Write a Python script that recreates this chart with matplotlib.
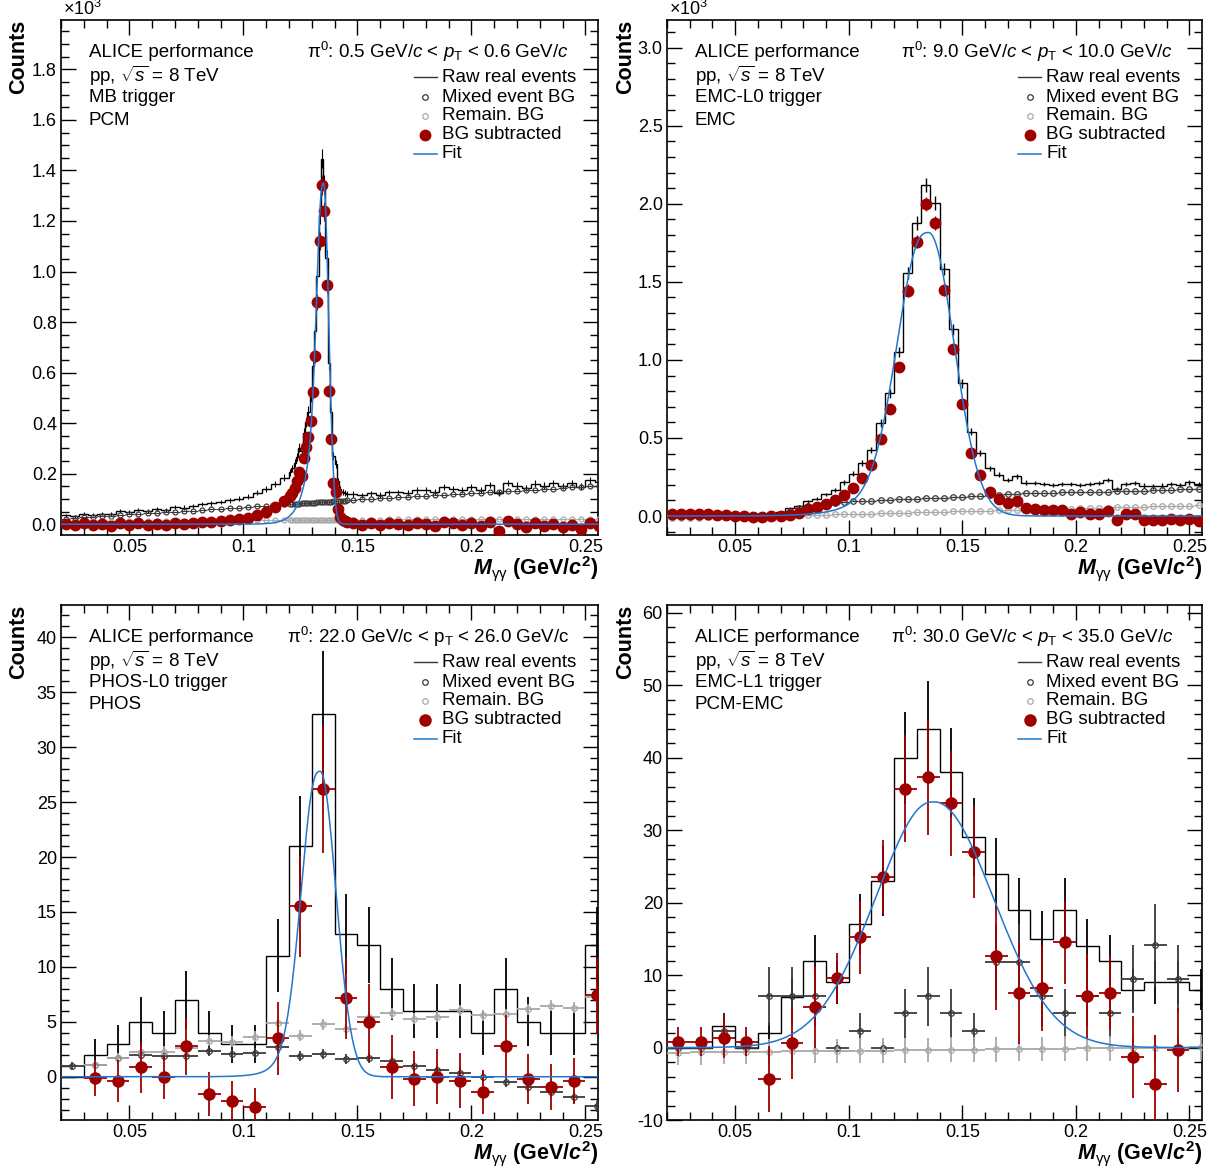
import numpy as np
import matplotlib
matplotlib.use('Agg')
import matplotlib.pyplot as plt
from matplotlib.ticker import MultipleLocator, FuncFormatter

plt.rcParams['font.family'] = ['Liberation Sans', 'DejaVu Sans']
plt.rcParams['mathtext.fontset'] = 'custom'
plt.rcParams['mathtext.rm'] = 'Liberation Sans'
plt.rcParams['mathtext.it'] = 'Liberation Sans:italic'
plt.rcParams['mathtext.bf'] = 'Liberation Sans:bold'
plt.rcParams['mathtext.bfit'] = 'Liberation Sans:bold:italic'
plt.rcParams['axes.unicode_minus'] = False

# ---------------- PCM, MB trigger, 0.5-0.6 GeV/c (variable binning) ----------------
pcm_edges = np.round(np.concatenate([np.arange(0.020, 0.1199, 0.004),
                                     np.arange(0.120, 0.1459, 0.001),
                                     np.arange(0.146, 0.2581, 0.004)]), 4)
pcm_raw = [35, 31, 42, 37, 42, 40, 51, 49, 58, 52, 59, 57, 67, 66, 73, 79, 83, 88, 95, 101, 109, 125, 139, 160, 184,
           205, 221, 241, 267, 303, 289, 361, 405, 445, 508, 625, 766, 984, 1225, 1447, 1344, 1054, 636, 444, 271,
           237, 169, 140, 128, 123, 120,
           119, 114, 122, 115, 126, 126, 124, 136, 134, 128, 146, 141, 137, 148, 137, 155, 124, 163, 153, 145,
           161, 153, 163, 152, 162, 149, 174, 165]
pcm_mixed = [22, 24, 27, 29, 31, 34, 36, 39, 41, 43, 45, 47, 50, 52, 54, 57, 59, 61, 64, 66, 69, 71, 73, 76, 78,
             79, 80, 80, 81, 81, 82, 82, 83, 84, 84, 85, 85, 86, 86, 87, 88, 88, 89, 89, 90, 91, 91, 92, 92, 93, 94,
             95, 98, 100, 102, 104, 107, 109, 111, 113, 115, 117, 119, 121, 123, 125, 127, 129, 131, 133, 135,
             137, 139, 141, 144, 146, 149, 151, 153]
pcm_remain = [10, 10, 11, 11, 11, 12, 12, 12, 12, 13, 13, 13, 13, 14, 14, 14, 14, 15, 15, 15, 15, 16, 16, 16, 16,
              16, 16, 16, 16, 17, 17, 17, 17, 17, 17, 17, 17, 17, 17, 18, 18, 18, 18, 18, 18, 18, 18, 18, 18, 18, 18,
              18, 18, 18, 18, 19, 19, 19, 19, 19, 19, 19, 19, 19, 20, 20, 20, 20, 20, 20, 20, 20, 20, 20, 20, 20,
              20, 20, 20]
pcm_sub = [2, -5, 4, -3, 0, -6, 3, -2, 5, -4, 1, -3, 4, 0, 5, 8, 10, 12, 16, 20, 25, 38, 50, 68, 90,
           110, 125, 145, 170, 205, 190, 262, 305, 344, 407, 523, 664, 881, 1122, 1342, 1238, 948, 529, 337, 163,
           128, 60, 30, 18, 12, 8,
           6, -2, 4, -5, 3, 0, -4, 6, 2, -6, 10, 3, -3, 5, -8, 8, -25, 12, 0, -10, 4, -6, 2, -12, -4, -20, 3, -8]
pcm_fit = (1350, 0.1352, 0.0022, 0.0040)   # amplitude, mean, sigma, tail

# ---------------- EMC, EMC-L0 trigger, 9-10 GeV/c ----------------
emc_edges = np.round(np.arange(0.020, 0.2561, 0.004), 4)
emc_raw = [3, 3, 2, 2, 2, 2, 3, 3, 3, 5, 8, 12, 25, 50, 62, 95, 110, 138, 165, 215,
           270, 338, 423, 594, 786, 1053, 1556, 1876, 2122, 2004, 1581, 1197, 851, 541, 402, 306, 263, 231, 256, 214,
           210, 205, 200, 205, 205, 200, 205, 210, 230, 175, 205, 210, 195, 190, 195, 205, 200, 215, 205]
emc_mixed = [-8, -8, -8, -8, -8, -8, -7, -6, -5, -3, -2, 3, 15, 33, 50, 62, 72, 79, 85, 89,
             93, 96, 99, 102, 105, 107, 109, 111, 114, 116, 118, 121, 124, 127, 131, 134, 137, 140, 142, 145,
             147, 149, 150, 152, 153, 154, 155, 156, 157, 158, 160, 161, 163, 165, 167, 169, 171, 173, 175]
emc_remain = [-15, -14, -12, -11, -9, -8, -6, -5, -4, -2, -1, 1, 2, 4, 5, 6, 8, 9, 11, 12,
              14, 15, 16, 18, 19, 21, 22, 24, 25, 26, 28, 29, 31, 32, 34, 35, 36, 38, 39, 41,
              42, 44, 45, 46, 48, 49, 51, 52, 54, 55, 56, 58, 59, 61, 62, 64, 65, 66, 68]
emc_sub = [15, 15, 15, 12, 10, 5, 5, 0, -3, -5, -5, 0, 0, 5, 17, 43, 60, 75, 105, 136,
           177, 242, 329, 492, 688, 957, 1444, 1758, 2000, 1876, 1449, 1068, 718, 402, 263, 152, 109, 81, 96, 49,
           43, 38, 38, 38, 11, 28, 11, 11, 32, -28, 11, 11, -28, -28, -28, -17, -28, -17, -32]
emc_fit = (1816, 0.1352, 0.0112, 0.0106)

# ---------------- PHOS, PHOS-L0 trigger, 22-26 GeV/c ----------------
phos_edges = np.round(np.arange(0.02, 0.2601, 0.01), 3)
phos_raw = [0, 2, 3, 5, 4, 7, 4, 3, 3, 11, 21, 33, 13, 12, 8, 6, 6, 6, 4, 8, 5, 4, 4, 12]
phos_mixed = [1.0, 1.06, 1.67, 1.97, 1.85, 1.85, 2.3, 2.06, 2.15, 2.67, 1.85, 2.03, 1.6, 1.67, 1.4, 0.94,
              0.64, 0.33, -0.06, -0.45, -0.9, -1.36, -1.88, -2.7]
phos_mixed_err = [0.35, 0.35, 0.4, 0.4, 0.4, 0.4, 0.45, 0.45, 0.45, 0.5, 0.45, 0.45, 0.45, 0.45, 0.45, 0.45,
                  0.45, 0.45, 0.45, 0.5, 0.5, 0.5, 0.5, 0.5]
phos_remain = [np.nan, 1.06, 1.67, 2.27, 2.27, 2.58, 3.27, 3.18, 3.64, 4.85, 3.73, 4.76, 4.33, 5.4, 5.76, 5.3,
               5.45, 6.06, 5.6, 5.7, 6.15, 6.45, 6.3, 7.3]
phos_remain_err = [0.5] * 24
phos_sub = [np.nan, -0.12, -0.42, 0.85, -0.06, 2.76, -1.58, -2.2, -2.8, 3.5, 15.5, 26.2, 7.15, 4.94, 0.9, -0.2,
            0.0, -0.36, -1.42, 2.76, -0.2, -0.97, -0.42, 7.4]
phos_sub_err = [np.nan, 1.6, 1.9, 2.3, 2.0, 2.6, 2.0, 1.8, 1.8, 3.3, 4.6, 5.8, 3.7, 3.5, 2.9, 2.5,
                2.5, 2.5, 2.0, 2.9, 2.3, 2.1, 2.1, 3.5]
phos_fit = (27.8, 0.1337, 0.0069, 0.0060)

# ---------------- PCM-EMC, EMC-L1 trigger, 30-35 GeV/c ----------------
pcmemc_edges = np.round(np.arange(0.02, 0.2601, 0.01), 3)
pcmemc_raw = [0, 0, 3, 0, 2, 7, 12, 9, 17, 23, 40, 44, 38, 29, 24, 19, 15, 19, 14, 12, 8, 9, 9, 8]
pcmemc_mixed = [0, 0, 2.35, 0, 7.06, 7.06, 7.06, 0, 2.35, 0, 4.7, 7.06, 4.7, 2.35, 11.8, 11.8,
                7.06, 4.7, 7.06, 4.7, 9.4, 14.1, 9.4, np.nan]
pcmemc_mixed_err = [0.8, 0.8, 2.35, 0.8, 4.07, 4.07, 4.07, 0.8, 2.35, 0.8, 3.32, 4.07, 3.32, 2.35, 5.25, 5.25,
                    4.07, 3.32, 4.07, 3.32, 4.7, 5.76, 4.7, np.nan]
pcmemc_remain = [-0.69, -0.66, -0.63, -0.6, -0.57, -0.54, -0.5, -0.47, -0.44, -0.41, -0.38, -0.35, -0.31, -0.28,
                 -0.25, -0.22, -0.19, -0.16, -0.12, -0.09, -0.06, -0.03, 0.0, 0.03]
pcmemc_remain_err = [1.7] * 24
pcmemc_sub = [0.78, 0.78, 1.38, 0.78, -4.36, 0.6, 5.6, 9.6, 15.2, 23.5, 35.7, 37.4, 33.7, 27.0, 12.6, 7.5,
              8.2, 14.5, 7.1, 7.5, -1.28, -5.0, -0.37, np.nan]
pcmemc_sub_err = [2.0, 2.0, 2.8, 2.0, 4.6, 5.0, 5.6, 3.4, 5.0, 5.1, 7.4, 8.0, 7.2, 6.3, 7.4, 7.0,
                  5.9, 5.7, 5.8, 5.1, 5.7, 6.7, 5.8, np.nan]
pcmemc_fit = (33.9, 0.1378, 0.026, 0.005)

RED = '#9e0000'
BLUE = '#1f77d0'
DARK = '#3a3a3a'
LIGHT = '#a8a8a8'
XMIN, XMAX = 0.02, 0.2555


def peak(x, amp, mean, sigma, lam):
    g = np.exp(-0.5 * ((x - mean) / sigma) ** 2)
    tail = np.where(x < mean, np.exp((x - mean) / lam) * (1 - g), 0.0)
    return amp * (g + tail)


def draw(ax, edges, raw, mixed, remain, sub, sub_err, mixed_err, remain_err, fit, ms_sub, ms_bg, bar_lw):
    edges = np.asarray(edges)
    centers = 0.5 * (edges[:-1] + edges[1:])
    half = 0.5 * np.diff(edges)
    raw = np.asarray(raw, float)
    ax.stairs(raw, edges, color='black', lw=1.0, baseline=None, zorder=2)
    ax.errorbar(centers, raw, yerr=np.sqrt(raw), fmt='none', ecolor='black', elinewidth=bar_lw, zorder=2)
    ax.errorbar(centers, mixed, xerr=half, yerr=mixed_err, fmt='o', ms=ms_bg, mfc='none', mec=DARK,
                mew=0.9, ecolor=DARK, elinewidth=bar_lw, zorder=3)
    ax.errorbar(centers, remain, xerr=half, yerr=remain_err, fmt='o', ms=ms_bg, mfc='none', mec=LIGHT,
                mew=0.9, ecolor=LIGHT, elinewidth=bar_lw, zorder=3)
    ax.errorbar(centers, sub, xerr=half, yerr=sub_err, fmt='o', ms=ms_sub, mfc=RED, mec=RED,
                ecolor=RED, elinewidth=bar_lw, zorder=4)
    xf = np.linspace(XMIN, XMAX, 800)
    ax.plot(xf, peak(xf, *fit), color=BLUE, lw=1.1, zorder=5)


def style(ax, ylim, major, minor, scale):
    ax.set_xlim(XMIN, XMAX)
    ax.set_ylim(*ylim)
    ax.xaxis.set_major_locator(MultipleLocator(0.05))
    ax.xaxis.set_minor_locator(MultipleLocator(0.01))
    ax.xaxis.set_major_formatter(FuncFormatter(lambda v, p: f'{v:g}'))
    ax.yaxis.set_major_locator(MultipleLocator(major))
    ax.yaxis.set_minor_locator(MultipleLocator(minor))
    if scale:
        ax.yaxis.set_major_formatter(FuncFormatter(lambda v, p: f'{v / 1000:.1f}'))
        ax.text(0.003, 1.003, r'$\times$10$^{3}$', transform=ax.transAxes, ha='left', va='bottom', fontsize=13)
    ax.tick_params(which='both', direction='in', top=True, right=True, labelsize=13, pad=3)
    ax.tick_params(which='major', length=11, width=1.0)
    ax.tick_params(which='minor', length=5.5, width=1.0)
    for s in ax.spines.values():
        s.set_linewidth(1.2)
    ax.text(-0.078, 1.0, 'Counts', transform=ax.transAxes, rotation=90, ha='center', va='top',
            fontsize=15.5, fontweight='bold')
    ax.text(1.0, -0.037, r'$\mathbfit{M}_{\mathrm{\gamma\gamma}}$ (GeV/$\mathbfit{c}^{\mathbf{2}}$)',
            transform=ax.transAxes, ha='right', va='top', fontsize=15.5, fontweight='bold')


def annotate(ax, title, lines, ms_sub, ms_bg):
    tr = ax.transAxes
    ax.text(0.946, 0.938, title, transform=tr, ha='right', va='center', fontsize=13.5)
    for y, s in zip([0.938, 0.892, 0.850, 0.806], lines):
        ax.text(0.052, y, s, transform=tr, ha='left', va='center', fontsize=13.5)
    rows = [0.889, 0.850, 0.814, 0.777, 0.740]
    labels = ['Raw real events', 'Mixed event BG', 'Remain. BG', 'BG subtracted', 'Fit']
    ax.plot([0.657, 0.700], [rows[0]] * 2, transform=tr, color='#333333', lw=1.0)
    ax.plot([0.678], [rows[1]], 'o', ms=ms_bg, mfc='none', mec=DARK, mew=0.9, transform=tr)
    ax.plot([0.678], [rows[2]], 'o', ms=ms_bg, mfc='none', mec=LIGHT, mew=0.9, transform=tr)
    ax.plot([0.678], [rows[3]], 'o', ms=ms_sub, mfc=RED, mec=RED, transform=tr)
    ax.plot([0.657, 0.700], [rows[4]] * 2, transform=tr, color=BLUE, lw=1.1)
    for y, s in zip(rows, labels):
        ax.text(0.709, y, s, transform=tr, ha='left', va='center', fontsize=13.5)


fig = plt.figure(figsize=(12.22, 11.69), dpi=100)
ax1 = fig.add_axes([0.0499, 0.5423, 0.4394, 0.4405])
ax2 = fig.add_axes([0.5458, 0.5423, 0.4378, 0.4405])
ax3 = fig.add_axes([0.0499, 0.0419, 0.4394, 0.4405])
ax4 = fig.add_axes([0.5458, 0.0419, 0.4378, 0.4405])

pp = r'pp, $\sqrt{s}$ = 8 TeV'

pcm_raw_arr = np.asarray(pcm_raw, float)
draw(ax1, pcm_edges, pcm_raw, pcm_mixed, pcm_remain, pcm_sub, np.sqrt(pcm_raw_arr), None, None,
     pcm_fit, 7.5, 3.5, 0.8)
style(ax1, (-43, 1995), 200, 50, True)
annotate(ax1, r'π$^{0}$: 0.5 GeV/$c$ < $p_{\mathrm{T}}$ < 0.6 GeV/$c$',
         ['ALICE performance', pp, 'MB trigger', 'PCM'], 7.5, 4)

emc_raw_arr = np.asarray(emc_raw, float)
draw(ax2, emc_edges, emc_raw, emc_mixed, emc_remain, emc_sub, np.sqrt(emc_raw_arr), None, None,
     emc_fit, 7.5, 4, 1.0)
style(ax2, (-122, 3177), 500, 100, True)
annotate(ax2, r'π$^{0}$: 9.0 GeV/$c$ < $p_{\mathrm{T}}$ < 10.0 GeV/$c$',
         ['ALICE performance', pp, 'EMC-L0 trigger', 'EMC'], 7.5, 4)

draw(ax3, phos_edges, phos_raw, phos_mixed, phos_remain, phos_sub, phos_sub_err, phos_mixed_err,
     phos_remain_err, phos_fit, 8, 4, 1.3)
style(ax3, (-3.94, 42.94), 5, 1, False)
annotate(ax3, r'π$^{0}$: 22.0 GeV/c < p$_{\mathrm{T}}$ < 26.0 GeV/c',
         ['ALICE performance', pp, 'PHOS-L0 trigger', 'PHOS'], 8, 4)

draw(ax4, pcmemc_edges, pcmemc_raw, pcmemc_mixed, pcmemc_remain, pcmemc_sub, pcmemc_sub_err, pcmemc_mixed_err,
     pcmemc_remain_err, pcmemc_fit, 8, 4, 1.3)
style(ax4, (-10, 61.06), 10, 2, False)
annotate(ax4, r'π$^{0}$: 30.0 GeV/$c$ < $p_{\mathrm{T}}$ < 35.0 GeV/$c$',
         ['ALICE performance', pp, 'EMC-L1 trigger', 'PCM-EMC'], 8, 4)

fig.savefig('out.png', dpi=100)
